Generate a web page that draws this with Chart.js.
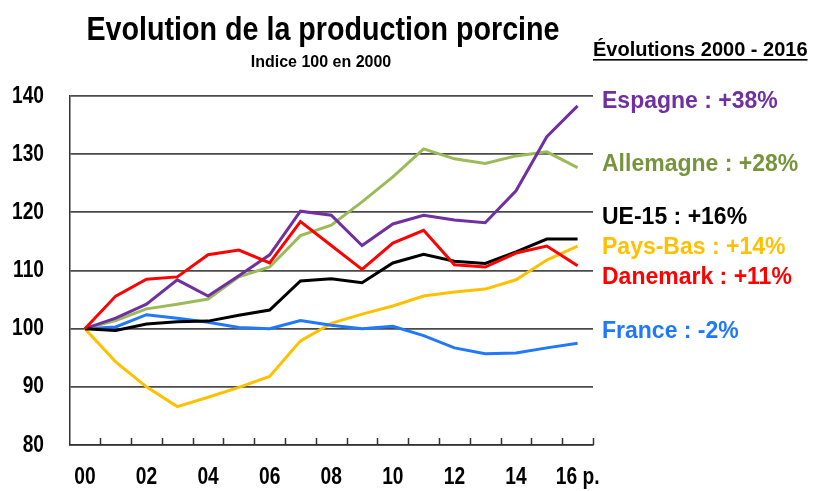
<!DOCTYPE html>
<html lang="fr">
<head>
<meta charset="UTF-8">
<title>Evolution de la production porcine</title>
<script src="https://cdn.jsdelivr.net/npm/chart.js@4.4.1/dist/chart.umd.min.js"></script>
<style>
  html, body { margin: 0; padding: 0; background: #fff; }
  #wrap { width: 814px; height: 491px; position: relative; }
</style>
</head>
<body>
<div id="wrap"><canvas id="chart"></canvas></div>
<script>
// Years 2000 - 2016 (16 = provisional)
const years = ['00','01','02','03','04','05','06','07','08','09','10','11','12','13','14','15','16 p.'];
const yTicks = [80, 90, 100, 110, 120, 130, 140];

// Index 100 in 2000
const espagne   = [100, 101.8, 104.2, 108.4, 105.6, 109.1, 112.7, 120.2, 119.5, 114.3, 118.0, 119.5, 118.7, 118.2, 123.7, 133.0, 138.3];
const allemagne = [100, 101.4, 103.4, 104.2, 105.1, 108.9, 110.6, 116.0, 117.8, 121.8, 126.1, 130.9, 129.2, 128.4, 129.7, 130.4, 127.7];
const ue15      = [100, 99.7, 100.8, 101.2, 101.3, 102.3, 103.2, 108.2, 108.6, 107.9, 111.3, 112.8, 111.6, 111.2, 113.2, 115.4, 115.4];
const paysBas   = [100, 94.3, 90.0, 86.6, 88.2, 89.9, 91.8, 97.9, 100.9, 102.5, 103.9, 105.6, 106.3, 106.8, 108.4, 111.8, 114.2];
const danemark  = [100, 105.6, 108.5, 108.9, 112.7, 113.5, 111.3, 118.4, 114.3, 110.2, 114.7, 116.9, 111.0, 110.6, 113.0, 114.2, 110.8];
const france    = [100, 100.3, 102.4, 101.8, 101.1, 100.2, 100.0, 101.4, 100.6, 100.0, 100.4, 98.8, 96.7, 95.7, 95.8, 96.7, 97.5];

// right-hand labels
const endLabels = ['Espagne : +38%', 'Allemagne : +28%', 'UE-15 : +16%', 'Pays-Bas : +14%', 'Danemark : +11%', 'France : -2%'];
const labelColors = ['#7030a0', '#77933c', '#000000', '#ffc000', '#ff0000', '#1f78ff'];

const SANS = "'Liberation Sans', Arial, sans-serif";

// narrow bold text (no condensed font installed, so squeeze horizontally)
function narrowText(ctx, text, x, y, align) {
  ctx.save();
  ctx.translate(x, y);
  ctx.scale(0.8, 1);
  ctx.textAlign = align;
  ctx.fillText(text, 0, 0);
  ctx.restore();
}

// titles, tick labels, right labels and inward x ticks
const decor = {
  id: 'decor',
  afterDraw(chart) {
    const ctx = chart.ctx;
    const area = chart.chartArea;
    const x = chart.scales.x;
    const y = chart.scales.y;
    ctx.save();

    // inward tick marks on the x axis
    const step = x.getPixelForValue(1) - x.getPixelForValue(0);
    ctx.strokeStyle = '#333';
    ctx.lineWidth = 1.5;
    ctx.beginPath();
    for (let i = 0; i < years.length; i++) {
      const px = Math.round(x.getPixelForValue(i) + step / 2) + 0.5;
      ctx.moveTo(px, area.bottom);
      ctx.lineTo(px, area.bottom - 7);
    }
    ctx.stroke();

    // tick labels
    ctx.fillStyle = '#000';
    ctx.font = 'bold 24px ' + SANS;
    ctx.textBaseline = 'middle';
    yTicks.forEach(v => narrowText(ctx, String(v), 44, y.getPixelForValue(v), 'right'));
    years.forEach((t, i) => {
      if (i % 2 === 0) narrowText(ctx, t, x.getPixelForValue(i), 477, 'center');
    });

    // title
    ctx.textAlign = 'center';
    ctx.textBaseline = 'alphabetic';
    ctx.font = 'bold 33px ' + SANS;
    ctx.fillText('Evolution de la production porcine', 323, 40, 473);
    ctx.font = 'bold 16px ' + SANS;
    ctx.fillText('Indice 100 en 2000', 321, 67, 147);

    // heading right
    ctx.textAlign = 'left';
    ctx.font = 'bold 20px ' + SANS;
    const head = 'Évolutions 2000 - 2016';
    const hw = Math.min(ctx.measureText(head).width, 219);
    ctx.fillText(head, 593, 56, 219);
    ctx.fillRect(593, 59, hw, 1.6);

    // series labels
    const ys = [102, 165, 218, 248, 278, 332];
    ctx.font = 'bold 23px ' + SANS;
    ctx.textBaseline = 'middle';
    endLabels.forEach((t, i) => {
      ctx.fillStyle = labelColors[i];
      ctx.fillText(t, 602, ys[i]);
    });
    ctx.restore();
  }
};

function line(label, data, color) {
  return {
    label: label,
    data: data,
    borderColor: color,
    backgroundColor: color,
    borderWidth: 3,
    pointRadius: 0,
    tension: 0,
    fill: false
  };
}

new Chart(document.getElementById('chart'), {
  type: 'line',
  data: {
    labels: years,
    datasets: [
      line('Danemark', danemark, '#ff0000'),
      line('UE-15', ue15, '#000000'),
      line('Espagne', espagne, '#7030a0'),
      line('Allemagne', allemagne, '#9bbb59'),
      line('France', france, '#1f78ff'),
      line('Pays-Bas', paysBas, '#ffc000')
    ]
  },
  options: {
    responsive: true,
    maintainAspectRatio: false,
    animation: false,
    layout: { padding: { top: 96, right: 221, bottom: 0, left: 0 } },
    plugins: {
      legend: { display: false },
      tooltip: { enabled: false }
    },
    scales: {
      x: {
        type: 'category',
        offset: true,
        grid: { display: false },
        border: { color: '#333', width: 1.5 },
        afterFit: s => { s.height = 46; },
        ticks: { display: false }
      },
      y: {
        min: 80,
        max: 140,
        afterFit: s => { s.width = 69.5; },
        afterBuildTicks: s => { s.ticks = yTicks.map(v => ({ value: v })); },
        grid: { color: '#4a4a4a', lineWidth: 1.7, drawTicks: false },
        border: { color: '#333', width: 1.5 },
        ticks: { display: false }
      }
    }
  },
  plugins: [decor]
});
</script>
</body>
</html>
